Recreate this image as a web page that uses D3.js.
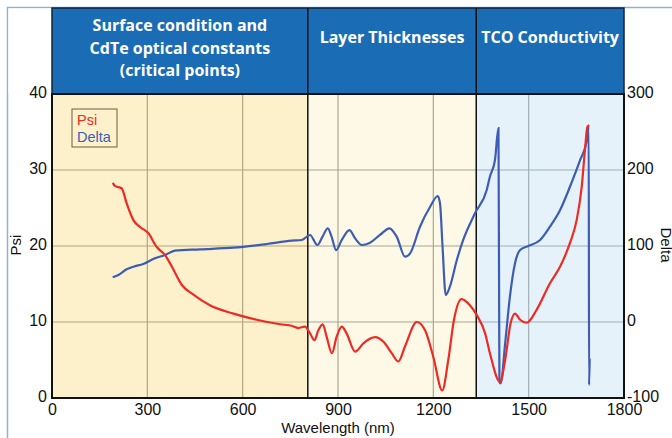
<!DOCTYPE html>
<html><head><meta charset="utf-8">
<script src="https://cdn.jsdelivr.net/npm/d3@7"></script>
<style>
html,body{margin:0;padding:0;background:#fff;}
svg{display:block;font-family:"Liberation Sans",Arial,sans-serif;}
</style></head>
<body><svg id="c" width="672" height="438"></svg>
<script>
// ---- data ----
const xTicks = [0, 300, 600, 900, 1200, 1500, 1800];
const psiTicks = [0, 10, 20, 30, 40];
const deltaTicks = [-100, 0, 100, 200, 300];
const sectionNames = ["Surface condition and|CdTe optical constants|(critical points)", "Layer Thicknesses", "TCO Conductivity"];
const sectionBounds = [0, 805, 1335, 1800];
const sectionFills = ["#fdf1cc", "#fdf9e6", "#e5f2fa"];

const psiWl = [191, 198, 219, 235, 256, 277, 303, 329, 356, 377, 408, 445, 497, 571, 644, 718, 754, 775, 796, 812, 826, 838, 852, 864, 881, 896, 912, 927, 954, 980, 1017, 1043, 1069, 1090, 1111, 1148, 1174, 1200, 1228, 1247, 1265, 1289, 1315, 1337, 1363, 1378, 1410, 1426, 1443, 1457, 1473, 1494, 1525, 1567, 1599, 1630, 1651, 1667, 1677, 1685, 1691];
const psiVal = [28.3, 27.9, 27.6, 25.6, 23.4, 22.5, 21.7, 19.9, 18.8, 17.3, 14.9, 13.6, 12.2, 11.1, 10.3, 9.7, 9.5, 9.2, 9.4, 8.5, 7.6, 8.9, 9.7, 8.1, 5.9, 8.1, 9.4, 8.5, 6.1, 7.2, 8.0, 7.4, 5.9, 4.8, 6.8, 10.0, 8.9, 5.4, 1.0, 5.0, 10.3, 13.0, 12.2, 10.9, 8.5, 5.9, 2.1, 5.0, 9.8, 11.1, 10.3, 9.9, 11.6, 15.1, 17.3, 20.4, 23.4, 27.8, 32.6, 35.7, 35.9];

const deltaWl = [191, 209, 235, 256, 287, 324, 356, 387, 466, 571, 676, 754, 786, 812, 835, 851, 868, 880, 894, 912, 936, 954, 975, 1001, 1032, 1062, 1085, 1111, 1127, 1158, 1190, 1214, 1221, 1229, 1239, 1252, 1274, 1294, 1331, 1368, 1378, 1394, 1405, 1408, 1412, 1426, 1441, 1457, 1473, 1499, 1536, 1567, 1599, 1630, 1662, 1683, 1689, 1690, 1692];
const deltaVal = [58.8, 61.8, 69.3, 72.8, 76.3, 83.8, 88.2, 93.8, 95.6, 97.8, 102.6, 107, 107.9, 114.5, 101.3, 112, 123.3, 112, 94.7, 108, 121, 110, 101.3, 104.4, 114.5, 123.3, 112, 86, 90.4, 125.4, 151.7, 165.8, 156, 99, 35.5, 46.4, 81.6, 108, 143, 173.7, 191.2, 213.2, 255, -78.6, -80.7, -28, 33.3, 77.2, 94.7, 100, 107.9, 125.4, 147.4, 178, 213.2, 239.5, 257, -83, -48];

// ---- layout ----
const L = 52, R = 624, T = 94, B = 398, HT = 8;
const svg = d3.select("#c");
const x = d3.scaleLinear().domain([0, 1800]).range([L, R]);
const yP = d3.scaleLinear().domain([0, 40]).range([B, T]);
const yD = d3.scaleLinear().domain([-100, 300]).range([B, T]);
const fmt = d => String(d);

// outer frame lines
svg.append("line").attr("x1", 7.5).attr("x2", 7.5).attr("y1", 7).attr("y2", 438).attr("stroke", "#8ab4d4").attr("stroke-width", 1.5);
svg.append("line").attr("x1", 7).attr("x2", 672).attr("y1", 7.5).attr("y2", 7.5).attr("stroke", "#8ab4d4").attr("stroke-width", 1.5);
svg.append("rect").attr("x", 8.5).attr("y", 8.5).attr("width", L - 9).attr("height", T - 9).attr("fill", "#fff");

// header
svg.append("rect").attr("x", L).attr("y", HT).attr("width", R - L).attr("height", T - HT).attr("fill", "#1a6cb5").attr("stroke", "#10243a").attr("stroke-width", 1.5);

// section backgrounds
sectionFills.forEach((f, i) => {
  svg.append("rect").attr("x", x(sectionBounds[i])).attr("y", T).attr("width", x(sectionBounds[i + 1]) - x(sectionBounds[i])).attr("height", B - T).attr("fill", f);
});

// grid
const gridColor = ["#b3a67c", "#a8a88e", "#9fb0b8"];
const secIdx = v => v < sectionBounds[1] ? 0 : (v < sectionBounds[2] ? 1 : 2);
xTicks.slice(1, -1).forEach(v => {
  svg.append("line").attr("x1", x(v)).attr("x2", x(v)).attr("y1", T).attr("y2", B).attr("stroke", gridColor[secIdx(v)]).attr("stroke-width", 1.2);
});
psiTicks.slice(1, -1).forEach(v => {
  for (let i = 0; i < 3; i++) {
    svg.append("line").attr("x1", x(sectionBounds[i])).attr("x2", x(sectionBounds[i + 1])).attr("y1", yP(v)).attr("y2", yP(v)).attr("stroke", gridColor[i]).attr("stroke-width", 1.2);
  }
});

// section dividers
[sectionBounds[1], sectionBounds[2]].forEach(v => {
  svg.append("line").attr("x1", x(v)).attr("x2", x(v)).attr("y1", HT).attr("y2", B).attr("stroke", "#111").attr("stroke-width", 1.5);
});
svg.append("line").attr("x1", L).attr("x2", R).attr("y1", T).attr("y2", T).attr("stroke", "#111").attr("stroke-width", 1.5);

// header texts
sectionNames.forEach((name, i) => {
  const cx = (x(sectionBounds[i]) + x(sectionBounds[i + 1])) / 2;
  const lines = name.split("|");
  const t = svg.append("text").attr("x", cx).attr("text-anchor", "middle").attr("fill", "#fff")
    .attr("font-family", "'Open Sans','Noto Sans',sans-serif").attr("font-weight", "bold").attr("font-size", 16);
  if (lines.length === 1) {
    t.append("tspan").attr("x", cx).attr("y", 43).text(lines[0]);
  } else {
    lines.forEach((ln, j) => t.append("tspan").attr("x", cx).attr("y", 31 + j * 22.5).text(ln));
  }
});

// lines
const lineP = d3.line().x((d, i) => x(psiWl[i])).y(d => yP(d)).curve(d3.curveMonotoneX);
const lineD = d3.line().x((d, i) => x(deltaWl[i])).y(d => yD(d)).curve(d3.curveMonotoneX);
svg.append("path").attr("d", lineD(deltaVal)).attr("fill", "none").attr("stroke", "#3d5db4").attr("stroke-width", 2.2);
svg.append("path").attr("d", lineP(psiVal)).attr("fill", "none").attr("stroke", "#ee2a24").attr("stroke-width", 2.2);

// plot frame
svg.append("rect").attr("x", L).attr("y", T).attr("width", R - L).attr("height", B - T).attr("fill", "none").attr("stroke", "#111").attr("stroke-width", 2);

// axes
const ax = svg.append("g").attr("transform", `translate(0,${B})`)
  .call(d3.axisBottom(x).tickValues(xTicks).tickFormat(fmt).tickSize(0).tickPadding(4));
const ayl = svg.append("g").attr("transform", `translate(${L},0)`)
  .call(d3.axisLeft(yP).tickValues(psiTicks).tickFormat(fmt).tickSize(0).tickPadding(5));
const ayr = svg.append("g").attr("transform", `translate(${R},0)`)
  .call(d3.axisRight(yD).tickValues(deltaTicks).tickFormat(fmt).tickSize(0).tickPadding(3));
[ax, ayl, ayr].forEach(g => {
  g.select(".domain").remove();
  g.selectAll("text").attr("font-size", 16).attr("fill", "#111").attr("font-family", "'Liberation Sans',Arial,sans-serif");
});
ayl.selectAll("text").attr("dy", "0.2em");
ayr.selectAll("text").attr("dy", "0.2em");
ax.selectAll("text").attr("dy", "0.8em");

// axis titles
svg.append("text").attr("transform", "translate(21,245) rotate(-90)").attr("text-anchor", "middle").attr("font-size", 15).attr("fill", "#111").text("Psi");
svg.append("text").attr("transform", "translate(661,245) rotate(90)").attr("text-anchor", "middle").attr("font-size", 15).attr("fill", "#111").text("Delta");
svg.append("text").attr("x", 338).attr("y", 433).attr("text-anchor", "middle").attr("font-size", 15).attr("fill", "#111").text("Wavelength (nm)");

// legend
svg.append("rect").attr("x", 72).attr("y", 109).attr("width", 45).attr("height", 38).attr("fill", "none").attr("stroke", "#6a5d3c").attr("stroke-width", 1);
svg.append("text").attr("x", 77).attr("y", 125).attr("font-size", 14.5).attr("fill", "#ee2a24").text("Psi");
svg.append("text").attr("x", 77).attr("y", 142).attr("font-size", 14.5).attr("fill", "#3d5db4").text("Delta");
</script></body></html>
